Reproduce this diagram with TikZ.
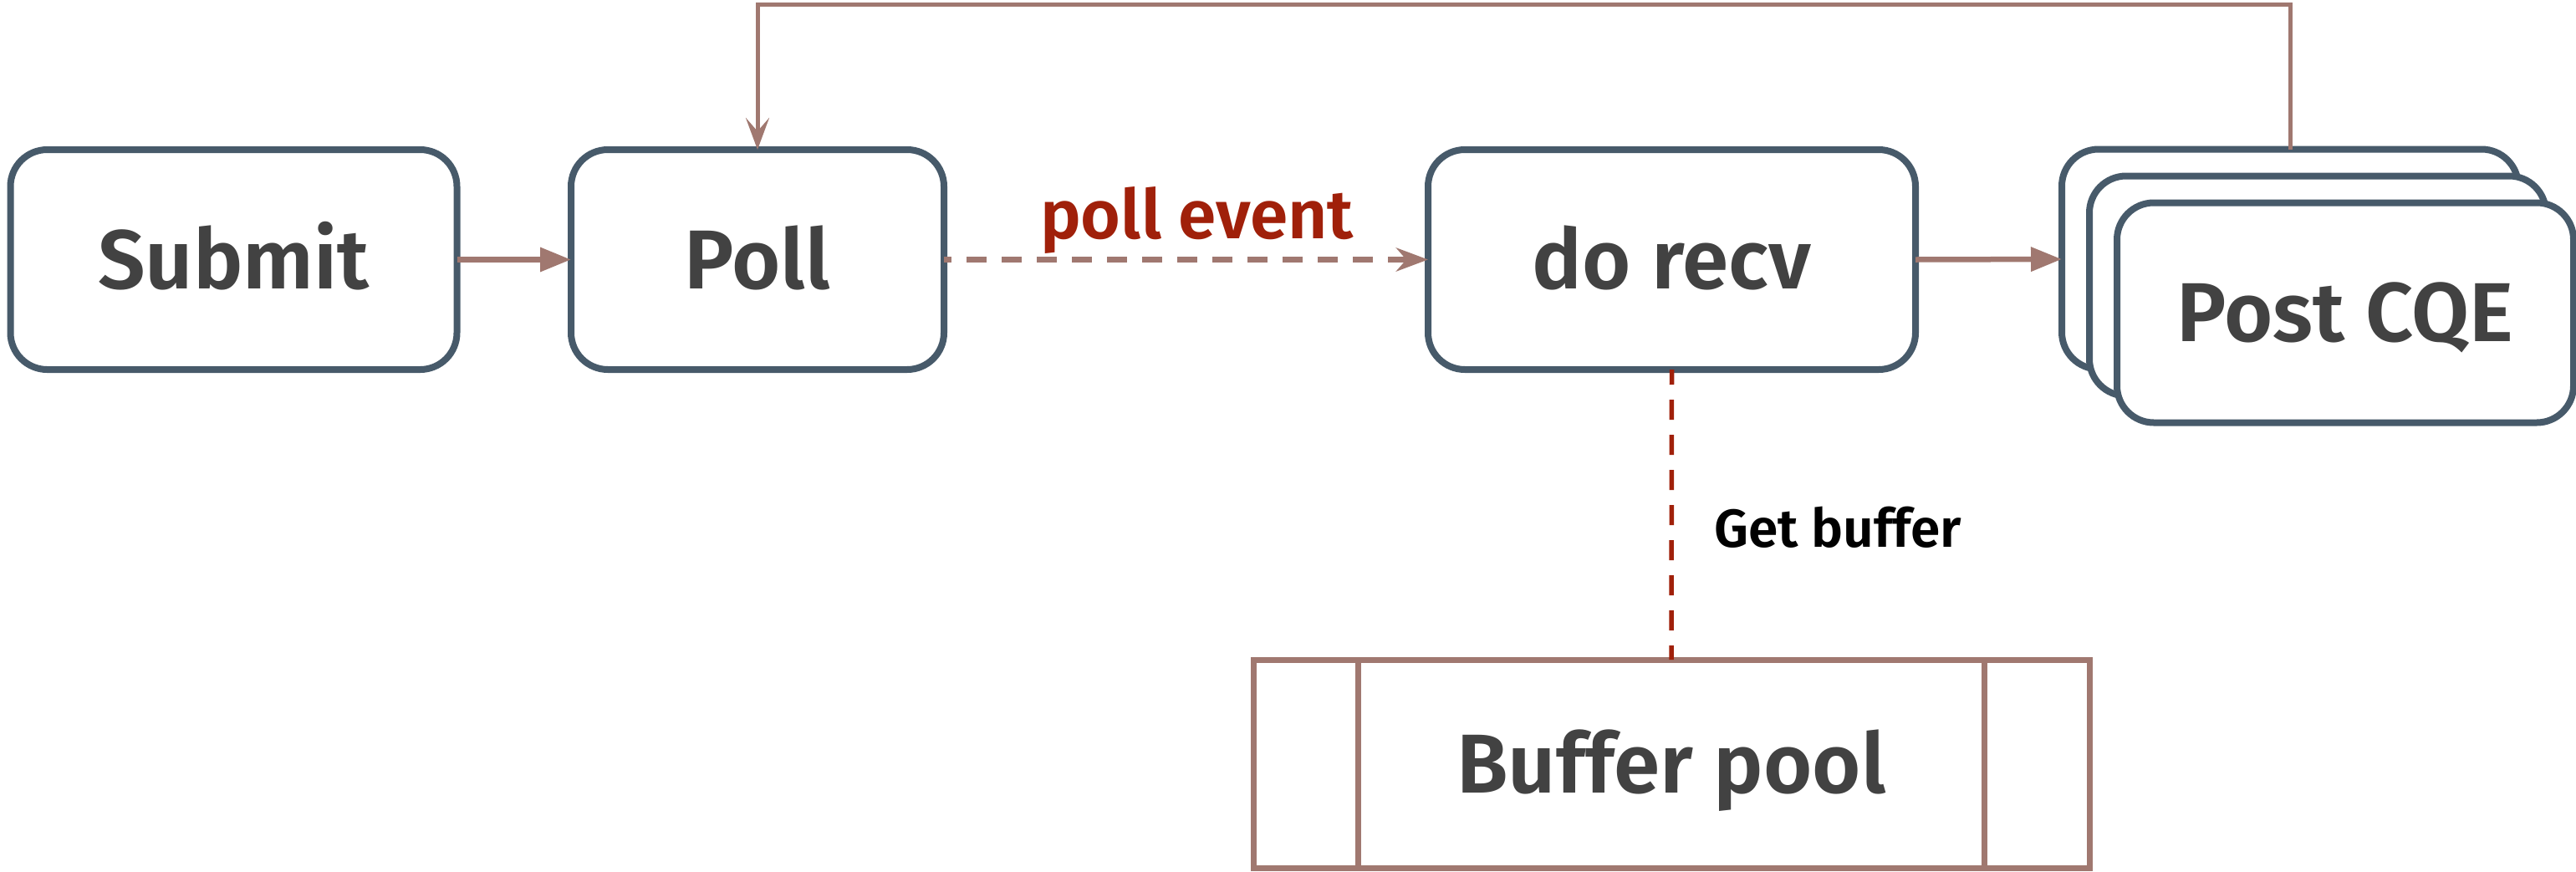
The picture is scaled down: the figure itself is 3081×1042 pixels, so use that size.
\documentclass[tikz,border=0pt]{standalone}
\usepackage{fontspec}
\setmainfont{Fira Sans}[UprightFont={* SemiBold}, BoldFont={* SemiBold}]
\usetikzlibrary{arrows.meta}

\definecolor{boxline}{RGB}{71,90,106}
\definecolor{labeltext}{RGB}{66,66,66}
\definecolor{flow}{RGB}{160,120,112}
\definecolor{alert}{RGB}{160,32,10}

\tikzset{
  proc/.style={draw=boxline, line width=8pt, fill=white, rounded corners=44pt,
    minimum height=263pt, inner sep=0pt, outer sep=0pt, text=labeltext,
    font=\fontsize{100}{110}\selectfont, text height=69pt, text depth=0pt},
  pool/.style={draw=flow, line width=7pt, fill=white, inner sep=0pt, outer sep=0pt,
    text=labeltext, font=\fontsize{100}{110}\selectfont, text height=69pt, text depth=0pt},
  flowarrow/.style={draw=flow, line width=6.5pt, -{Triangle[length=37pt,width=28pt]}},
  eventarrow/.style={draw=flow, line width=6.5pt, dash pattern=on 24pt off 18pt,
    dash phase=15pt, -{Stealth[length=38pt,width=28pt,inset=12pt]}},
  backarrow/.style={draw=flow, line width=5pt, -{Stealth[length=38pt,width=28pt,inset=16pt]}},
  bufferlink/.style={draw=alert, line width=5.5pt, dash pattern=on 24pt off 18pt, dash phase=6pt},
}

\begin{document}
\begin{tikzpicture}[x=1pt,y=-1pt]
  \useasboundingbox (0,0) rectangle (3081,1042);

  % processing stages
  \node[proc, minimum width=534pt] (submit) at (279.5,310.5) {Submit};
  \node[proc, minimum width=446pt] (poll) at (906,310.5) {Poll};
  \node[proc, minimum width=583pt] (recv) at (1999.5,310.5) {do recv};

  % stack of completion entries
  \node[proc, minimum width=546pt] (cqe1) at (2739,310) {};
  \node[proc, minimum width=546pt] (cqe2) at (2772,342) {};
  \node[proc, minimum width=546pt] (cqe3) at (2805,374) {Post CQE};

  % buffer pool (predefined process)
  \node[pool, minimum width=1000pt, minimum height=249pt] (bufpool) at (1999,913.5) {Buffer pool};
  \draw[flow, line width=7pt] ([xshift=125pt]bufpool.north west) -- ([xshift=125pt]bufpool.south west);
  \draw[flow, line width=7pt] ([xshift=-126pt]bufpool.north east) -- ([xshift=-126pt]bufpool.south east);

  % connectors
  \draw[flowarrow] (submit.east) -- (poll.west);
  \draw[eventarrow] (poll.east) -- node[pos=0.5, above=4pt, xshift=13pt, text=alert,
    font=\bfseries\fontsize{82}{90}\selectfont, inner sep=0pt] (evlabel) {poll event} (recv.west);
  \draw[flowarrow] (recv.east) -- (cqe1.west);

  \coordinate (loop) at (0,5);
  \draw[backarrow] (cqe1.north) -- (cqe1.north |- loop) -| (poll.north);

  \draw[bufferlink] (recv.south) -- (bufpool.north);
  \node[anchor=base west, inner sep=0pt, font=\bfseries\fontsize{64}{70}\selectfont, text=black]
    (getbuf) at (2050,654) {Get buffer};
\end{tikzpicture}
\end{document}
